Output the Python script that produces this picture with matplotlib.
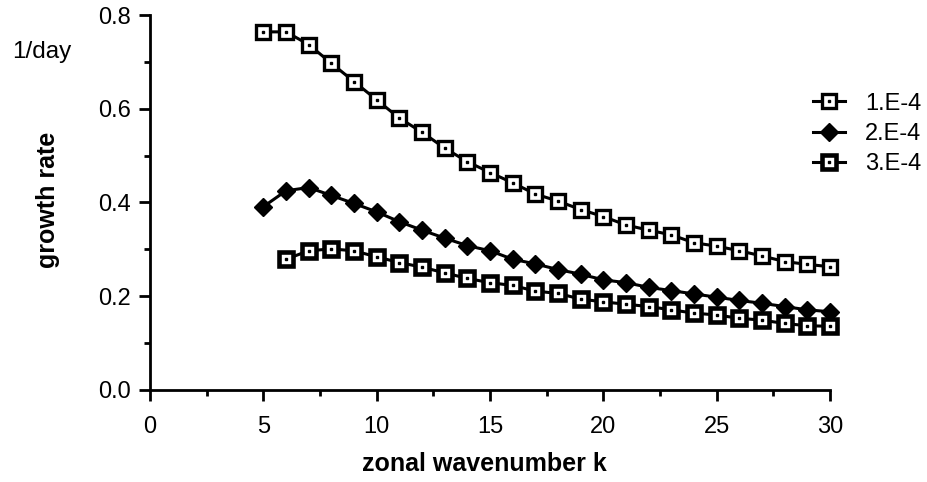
import matplotlib
matplotlib.use("Agg")
import matplotlib.pyplot as plt
from matplotlib.ticker import MultipleLocator, FormatStrFormatter

plt.rcParams['font.family'] = ['Liberation Sans', 'DejaVu Sans']

# growth rate (1/day) against zonal wavenumber for three values of the parameter
k_a = list(range(5, 31))
rate_a = [0.764, 0.764, 0.737, 0.697, 0.658, 0.619, 0.580, 0.550, 0.516,
          0.487, 0.464, 0.442, 0.418, 0.403, 0.385, 0.370, 0.352, 0.341,
          0.331, 0.314, 0.307, 0.297, 0.286, 0.274, 0.268, 0.263]

k_b = list(range(5, 31))
rate_b = [0.391, 0.425, 0.432, 0.415, 0.398, 0.380, 0.359, 0.341, 0.324,
          0.308, 0.297, 0.279, 0.269, 0.257, 0.247, 0.235, 0.229, 0.219,
          0.212, 0.205, 0.198, 0.191, 0.185, 0.178, 0.171, 0.167]

k_c = list(range(6, 31))
rate_c = [0.279, 0.297, 0.301, 0.297, 0.284, 0.272, 0.262, 0.250, 0.238,
          0.229, 0.223, 0.211, 0.206, 0.194, 0.188, 0.183, 0.178, 0.171,
          0.164, 0.160, 0.153, 0.149, 0.142, 0.137, 0.136]

labels = ['1.E-4', '2.E-4', '3.E-4']

fig = plt.figure(figsize=(9.27, 4.82), dpi=100)
ax = fig.add_axes([150 / 927, 92 / 482, 680 / 927, 375 / 482])

lw = 2.2
l1, = ax.plot(k_a, rate_a, color='black', lw=lw, marker='s', ms=9.5,
              mfc='white', mec='black', mew=2.4, clip_on=False, zorder=3)
d1, = ax.plot(k_a, rate_a, ls='none', marker='s', ms=1.8, color='black',
              clip_on=False, zorder=4)
l2, = ax.plot(k_b, rate_b, color='black', lw=lw, marker='D', ms=9,
              mfc='black', mec='black', clip_on=False, zorder=3)
l3, = ax.plot(k_c, rate_c, color='black', lw=lw, marker='s', ms=9.5,
              mfc='white', mec='black', mew=3.3, clip_on=False, zorder=3)
d3, = ax.plot(k_c, rate_c, ls='none', marker='s', ms=1.8, color='black',
              clip_on=False, zorder=4)

ax.set_xlim(0, 30)
ax.set_ylim(0, 0.8)
ax.xaxis.set_major_locator(MultipleLocator(5))
ax.xaxis.set_minor_locator(MultipleLocator(2.5))
ax.yaxis.set_major_locator(MultipleLocator(0.2))
ax.yaxis.set_minor_locator(MultipleLocator(0.1))
ax.yaxis.set_major_formatter(FormatStrFormatter('%.1f'))

for side in ['top', 'right']:
    ax.spines[side].set_visible(False)
for side in ['left', 'bottom']:
    ax.spines[side].set_linewidth(2)

ax.tick_params(which='major', direction='out', length=8, width=2,
               labelsize=17)
ax.tick_params(axis='x', which='major', pad=11)
ax.tick_params(axis='y', which='major', pad=6)
ax.tick_params(which='minor', direction='out', length=4.5, width=2)

fig.text(48 / 927, 1 - 200 / 482, 'growth rate', rotation=90,
         ha='center', va='center', fontsize=18, fontweight='bold')
fig.text(42 / 927, 1 - 52 / 482, '1/day', ha='center', va='center',
         fontsize=17.5)
fig.text(484 / 927, 1 - 464 / 482, 'zonal wavenumber k', ha='center',
         va='center', fontsize=18, fontweight='bold')

fig.legend([(l1, d1), l2, (l3, d3)], labels, loc='center left',
           bbox_to_anchor=(813 / 927, 1 - 134 / 482), frameon=False,
           fontsize=17, handlelength=1.36, handletextpad=0.85,
           labelspacing=0.36, borderpad=0, borderaxespad=0)

fig.savefig('out.png', dpi=100)
